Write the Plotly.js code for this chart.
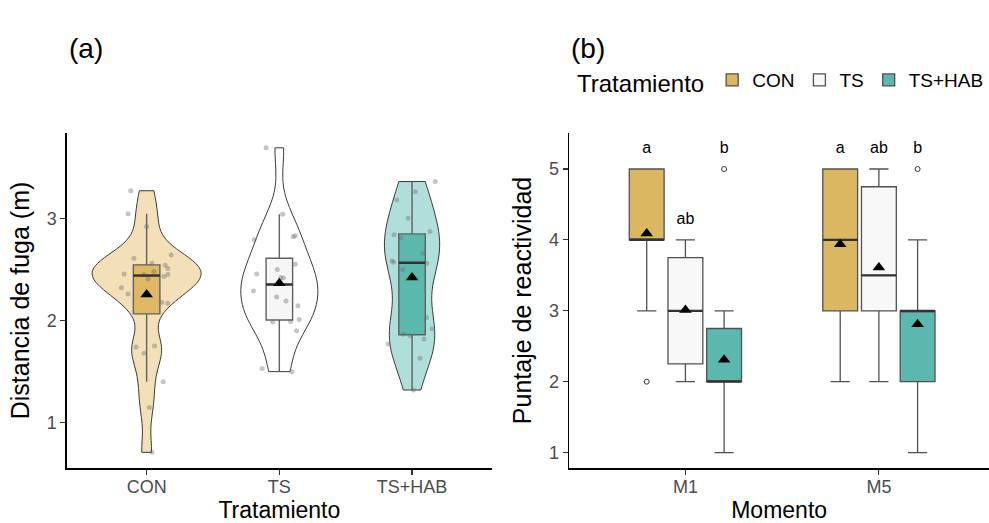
<!DOCTYPE html>
<html><head><meta charset="utf-8">
<script src="https://cdn.plot.ly/plotly-3.0.1.min.js"></script>
<style>html,body{margin:0;padding:0;background:#fff}#chart{width:989px;height:523px}</style>
</head><body><div id="chart"></div>
<script>
// ---------- Panel (a): Distancia de fuga (m), individual observations ----------
const treatments = ['CON', 'TS', 'TS+HAB'];
const distCON = [3.27, 3.045, 2.92, 2.61, 2.64, 2.56, 2.54, 2.51, 2.455, 2.45, 2.48, 2.45, 2.43, 2.41, 2.32, 2.26, 2.18, 2.17, 1.74, 1.75, 1.68, 1.40, 1.15, 0.71];
const jitCON  = [-0.12, -0.14, 0.00, -0.096, 0.185, 0.04, 0.14, 0.16, -0.17, -0.02, 0.055, 0.16, 0.13, 0.01, -0.19, -0.14, 0.115, 0.16, -0.08, 0.06, -0.02, 0.125, 0.02, 0.04];
const distTS  = [3.69, 3.04, 2.79, 2.82, 2.83, 2.55, 2.455, 2.50, 2.42, 2.415, 2.29, 2.23, 2.19, 2.145, 2.01, 1.985, 1.99, 1.90, 1.53, 1.50];
const jitTS   = [-0.10, 0.025, -0.19, 0.105, 0.12, 0.12, -0.17, -0.015, 0.01, 0.03, -0.195, -0.02, 0.05, 0.14, 0.15, -0.05, 0.085, 0.13, -0.13, 0.095];
const distHAB = [3.36, 3.26, 3.18, 3.00, 2.87, 2.84, 2.81, 2.66, 2.585, 2.57, 2.56, 2.50, 2.03, 1.92, 1.865, 1.85, 1.82, 1.77, 1.63, 1.32];
const jitHAB  = [0.175, 0.025, -0.115, -0.03, 0.135, -0.135, -0.085, 0.08, -0.15, -0.14, 0.11, -0.07, 0.11, 0.15, -0.065, -0.015, 0.09, -0.18, 0.06, 0.01];

// ---------- Panel (b): Puntaje de reactividad, box summaries per Momento ----------
const moments = ['M1', 'M5'];
const q1CON  = [4, 3],    medCON = [4, 4],   q3CON = [5, 5],    loCON = [3, 2], hiCON = [5, 5], meanCON = [4.09, 3.94];
const q1TS   = [2.25, 3], medTS  = [3, 3.5], q3TS  = [3.75, 4.75], loTS = [2, 2], hiTS = [4, 5], meanTS = [3.01, 3.61];
const q1HAB  = [2, 2],    medHAB = [2, 3],   q3HAB = [2.75, 3], loHAB = [1, 1], hiHAB = [3, 4], meanHAB = [2.31, 2.81];
const outCON = [[2], []];
const outTS  = [[], []];
const outHAB = [[5], [5]];
const letCON = ['a', 'a'];
const letTS  = ['ab', 'ab'];
const letHAB = ['b', 'b'];

// ---------- styles ----------
const violinFill = ['rgba(240,214,160,0.75)', '#ffffff', 'rgba(146,210,205,0.72)'];
const boxFillA   = ['#dfb864', '#f6f6f6', '#5bb8ad'];
const boxFillB   = ['#dcb762', '#f8f8f8', '#5cb8ae'];
const dodge = [-0.2, 0, 0.2];
const VIOLIN_MAX_W = 0.82, BOX_W_A = 0.2, BOX_W_B = 0.18;
const FONT = 'Liberation Sans, Arial, Helvetica, sans-serif';

function stats(arr) {
  const s = [...arr].sort((a, b) => a - b), n = s.length;
  const q = p => { const h = (n - 1) * p, l = Math.floor(h), u = Math.min(l + 1, n - 1); return s[l] + (h - l) * (s[u] - s[l]); };
  const q1 = q(0.25), med = q(0.5), q3 = q(0.75), iqr = q3 - q1;
  const lo = s.find(v => v >= q1 - 1.5 * iqr);
  const hi = [...s].reverse().find(v => v <= q3 + 1.5 * iqr);
  const mean = s.reduce((a, b) => a + b, 0) / n;
  const sd = Math.sqrt(s.reduce((a, b) => a + (b - mean) ** 2, 0) / (n - 1));
  const bw = 0.9 * Math.min(sd, iqr / 1.34) * Math.pow(n, -0.2);
  // peak of gaussian KDE over the data range (for equal-area violin scaling)
  let peak = 0;
  for (let i = 0; i <= 400; i++) {
    const x = s[0] + (s[n - 1] - s[0]) * i / 400;
    let d = 0;
    for (const y of s) d += Math.exp(-0.5 * ((x - y) / bw) ** 2);
    peak = Math.max(peak, d / (n * bw * Math.sqrt(2 * Math.PI)));
  }
  return { q1, med, q3, lo, hi, mean, bw, peak };
}

const traces = [];
const groupsA = [[distCON, jitCON], [distTS, jitTS], [distHAB, jitHAB]];
const statsA = groupsA.map(g => stats(g[0]));
const maxPeak = Math.max(...statsA.map(s => s.peak));
const medLineA = { x: [], y: [] };
groupsA.forEach(([ys, jit], k) => {
  const st = statsA[k];
  traces.push({
    type: 'violin', x: ys.map(() => k), y: ys, xaxis: 'x', yaxis: 'y',
    bandwidth: st.bw, spanmode: 'hard', scalemode: 'width', width: VIOLIN_MAX_W * st.peak / maxPeak,
    points: false, box: { visible: false }, meanline: { visible: false },
    fillcolor: violinFill[k], line: { color: '#3a3a3a', width: 1 },
    showlegend: false, hoverinfo: 'skip', name: treatments[k]
  });
  traces.push({
    type: 'box', orientation: 'v', x: [k], q1: [st.q1], median: [st.med], q3: [st.q3],
    lowerfence: [st.lo], upperfence: [st.hi], width: BOX_W_A, whiskerwidth: 0, boxpoints: false,
    fillcolor: boxFillA[k], line: { color: '#606060', width: 1.4 },
    xaxis: 'x', yaxis: 'y', showlegend: false, hoverinfo: 'skip', name: treatments[k]
  });
  medLineA.x.push(k - BOX_W_A / 2, k + BOX_W_A / 2, null);
  medLineA.y.push(st.med, st.med, null);
  traces.push({
    type: 'scatter', mode: 'markers', x: jit.map(d => k + d), y: ys, xaxis: 'x', yaxis: 'y',
    marker: { size: 5, color: 'rgba(110,110,110,0.4)' }, showlegend: false, hoverinfo: 'skip'
  });
});
traces.push({
  type: 'scatter', mode: 'lines', x: medLineA.x, y: medLineA.y, xaxis: 'x', yaxis: 'y',
  line: { color: '#333', width: 2.4 }, showlegend: false, hoverinfo: 'skip', connectgaps: false
});
traces.push({
  type: 'scatter', mode: 'markers', x: [0, 1, 2], y: statsA.map(s => s.mean), xaxis: 'x', yaxis: 'y',
  marker: { symbol: 'triangle-up', size: 11, color: '#000' }, showlegend: false, hoverinfo: 'skip'
});

const groupsB = [
  [q1CON, medCON, q3CON, loCON, hiCON, meanCON, outCON, letCON],
  [q1TS, medTS, q3TS, loTS, hiTS, meanTS, outTS, letTS],
  [q1HAB, medHAB, q3HAB, loHAB, hiHAB, meanHAB, outHAB, letHAB]
];
const boxTracesB = [], overB = [];
const medLineB = { x: [], y: [] };
groupsB.forEach(([q1, med, q3, lo, hi, mean, out, lets], j) => {
  const xs = moments.map((m, i) => i + dodge[j]);
  boxTracesB.push({
    type: 'box', orientation: 'v', x: xs, q1: q1, median: med, q3: q3, lowerfence: lo, upperfence: hi,
    width: BOX_W_B, whiskerwidth: 0.55, boxpoints: false, fillcolor: boxFillB[j],
    line: { color: '#505050', width: 1.3 }, xaxis: 'x2', yaxis: 'y2',
    name: treatments[j], showlegend: true, hoverinfo: 'skip'
  });
  xs.forEach((x, i) => { medLineB.x.push(x - BOX_W_B / 2, x + BOX_W_B / 2, null); medLineB.y.push(med[i], med[i], null); });
  const ox = [], oy = [];
  out.forEach((arr, i) => arr.forEach(v => { ox.push(xs[i]); oy.push(v); }));
  overB.push({
    type: 'scatter', mode: 'markers', x: ox, y: oy, xaxis: 'x2', yaxis: 'y2',
    marker: { symbol: 'circle-open', size: 5, color: '#333', line: { width: 1 } }, showlegend: false, hoverinfo: 'skip'
  });
  overB.push({
    type: 'scatter', mode: 'markers', x: xs, y: mean, xaxis: 'x2', yaxis: 'y2',
    marker: { symbol: 'triangle-up', size: 11, color: '#000' }, showlegend: false, hoverinfo: 'skip'
  });
  const ty = hi.map((h, i) => Math.max(h, ...out[i]) + 0.28);
  overB.push({
    type: 'scatter', mode: 'text', x: xs, y: ty, text: lets, xaxis: 'x2', yaxis: 'y2',
    textposition: 'middle center', textfont: { family: FONT, size: 16, color: '#000' },
    showlegend: false, hoverinfo: 'skip'
  });
});
const medB = {
  type: 'scatter', mode: 'lines', x: medLineB.x, y: medLineB.y, xaxis: 'x2', yaxis: 'y2',
  line: { color: '#333', width: 2.2 }, showlegend: false, hoverinfo: 'skip', connectgaps: false
};

const axisCommon = {
  showgrid: false, zeroline: false, showline: true, linecolor: '#000', linewidth: 1.6,
  ticks: 'outside', ticklen: 5, tickwidth: 1.2, tickcolor: '#333',
  tickfont: { family: FONT, size: 18, color: '#4d4d4d' }, automargin: false
};
const titleFont = { family: FONT, size: 25, color: '#000' };
const xTitleFont = { family: FONT, size: 23, color: '#000' };

const layout = {
  width: 989, height: 523,
  margin: { l: 67, r: 0, t: 133, b: 55 },
  paper_bgcolor: '#fff', plot_bgcolor: '#fff',
  font: { family: FONT },
  boxmode: 'overlay', violinmode: 'overlay',
  xaxis: Object.assign({}, axisCommon, {
    domain: [0, 0.4606], type: 'linear', range: [-0.6, 2.6],
    tickvals: [0, 1, 2], ticktext: treatments, ticklabelstandoff: -3,
    title: { text: 'Tratamiento', font: xTitleFont, standoff: 10 }
  }),
  yaxis: Object.assign({}, axisCommon, {
    domain: [0, 1], range: [0.557, 3.835], tickvals: [1, 2, 3],
    title: { text: 'Distancia de fuga (m)', font: titleFont, standoff: 10 }
  }),
  xaxis2: Object.assign({}, axisCommon, {
    domain: [0.5448, 1], type: 'linear', range: [-0.6, 1.569], anchor: 'y2',
    tickvals: [0, 1], ticktext: moments, ticklabelstandoff: -3,
    title: { text: 'Momento', font: xTitleFont, standoff: 10 }
  }),
  yaxis2: Object.assign({}, axisCommon, {
    domain: [0, 1], range: [0.782, 5.508], tickvals: [1, 2, 3, 4, 5], anchor: 'x2',
    title: { text: 'Puntaje de reactividad', font: titleFont, standoff: 10 }
  }),
  legend: {
    orientation: 'h', x: 1, xanchor: 'right', y: 0.843, yanchor: 'middle',
    yref: 'container', xref: 'container',
    title: { text: 'Tratamiento', side: 'left', font: { family: FONT, size: 24, color: '#000' } },
    font: { family: FONT, size: 19, color: '#000' }, bgcolor: 'rgba(0,0,0,0)'
  },
  annotations: [
    { text: '(a)', xref: 'paper', yref: 'paper', x: 0, xanchor: 'left', y: 1.2537, yanchor: 'middle',
      showarrow: false, font: { family: FONT, size: 28, color: '#000' } },
    { text: '(b)', xref: 'paper', yref: 'paper', x: 0.5448, xanchor: 'left', y: 1.2537, yanchor: 'middle',
      showarrow: false, font: { family: FONT, size: 28, color: '#000' } }
  ]
};

Plotly.newPlot('chart', traces.concat(boxTracesB, [medB], overB), layout, { staticPlot: true, displayModeBar: false });
</script>
</body></html>
